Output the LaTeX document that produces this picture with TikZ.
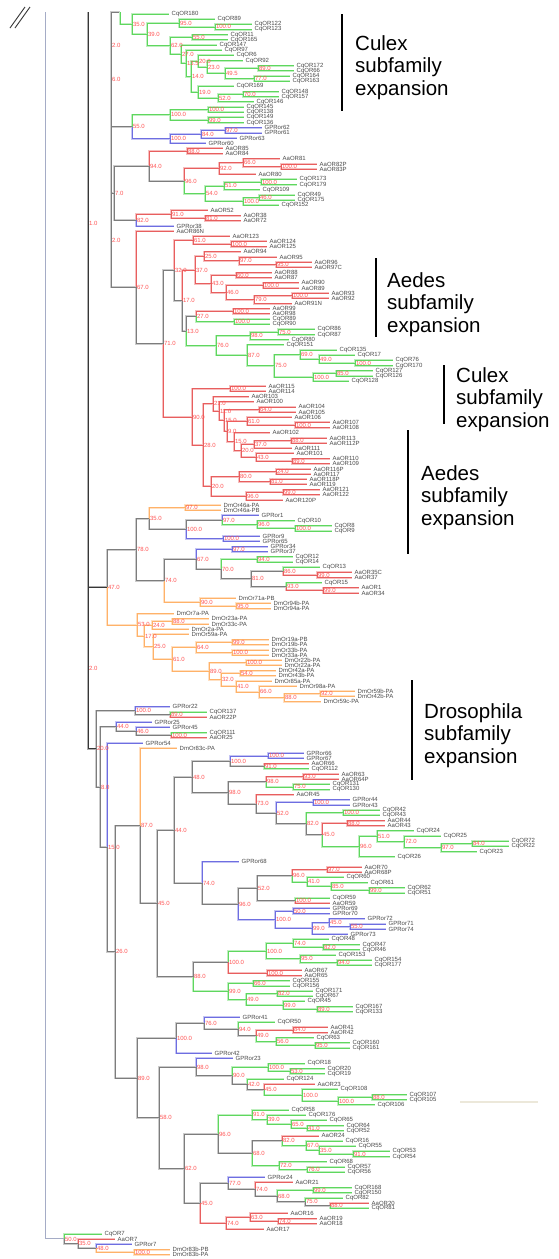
\documentclass[tikz,border=0pt]{standalone}
\usepackage{fontspec}
\setmainfont{Liberation Sans}
\usetikzlibrary{calc}
\definecolor{cG}{RGB}{95,215,95}
\definecolor{cR}{RGB}{232,95,95}
\definecolor{cB}{RGB}{110,110,225}
\definecolor{cO}{RGB}{255,178,105}
\definecolor{cK}{RGB}{125,125,125}
\definecolor{cD}{RGB}{55,55,55}
\definecolor{cbs}{RGB}{255,85,85}
\definecolor{ctx}{RGB}{75,75,75}
\definecolor{croot}{RGB}{165,172,198}
\definecolor{cbeige}{RGB}{236,232,218}
\tikzset{
 leaf/.style={anchor=west, inner xsep=2.5pt, inner ysep=0.3pt, text=ctx, font=\fontsize{6}{7}\selectfont},
 bs/.style={anchor=west, inner xsep=0.8pt, inner ysep=0.3pt, text=cbs, font=\fontsize{6}{7}\selectfont},
 eG/.style={cG, line width=0.8pt, preaction={draw=cG!40, line width=2pt}},
 eR/.style={cR, line width=0.8pt, preaction={draw=cR!40, line width=2pt}},
 eB/.style={cB, line width=0.8pt, preaction={draw=cB!40, line width=2pt}},
 eO/.style={cO, line width=0.8pt, preaction={draw=cO!40, line width=2pt}},
 eK/.style={cK, line width=0.8pt, preaction={draw=cK!40, line width=2pt}},
 eD/.style={cD, line width=0.9pt, preaction={draw=cD!40, line width=1.8pt}},
 eRoot/.style={croot, line width=1pt},
 anno/.style={align=left, inner sep=0pt, text=black, font=\fontsize{20.5}{22.5}\selectfont},
 bar/.style={black, line width=1.3pt},
}
\newcommand\Lf[3]{\node[leaf] (L#1) at ({#2-3},{14+5.17*(#1-1)}) {#3};}
\newcommand\Nd[7]{%
 \coordinate (#1m) at ($(#4)!0.5!(#6)$);
 \coordinate (#1) at (#2,0 |- #1m);
 \draw[e#5] (#1) |- (#4);
 \draw[e#7] (#1) |- (#6);
 \node[bs] (#1l) at (#1) {#3};}
\begin{document}
\begin{tikzpicture}[x=1pt,y=-1pt]
\useasboundingbox (0,0) rectangle (559,1259);
\fill[white] (0,0) rectangle (559,1259);
% leaves
\Lf{1}{172}{CqOR180}
\Lf{2}{218}{CqOR89}
\Lf{3}{255}{CqOR122}
\Lf{4}{255}{CqOR123}
\Lf{5}{231}{CqOR11}
\Lf{6}{231}{CqOR165}
\Lf{7}{220}{CqOR147}
\Lf{8}{225}{CqOR97}
\Lf{9}{237}{CqOR6}
\Lf{10}{246}{CqOR92}
\Lf{11}{297}{CqOR172}
\Lf{12}{297}{CqOR66}
\Lf{13}{293}{CqOR164}
\Lf{14}{293}{CqOR163}
\Lf{15}{237}{CqOR169}
\Lf{16}{282}{CqOR148}
\Lf{17}{282}{CqOR157}
\Lf{18}{257}{CqOR146}
\Lf{19}{247}{CqOR145}
\Lf{20}{247}{CqOR138}
\Lf{21}{247}{CqOR149}
\Lf{22}{247}{CqOR136}
\Lf{23}{265}{GPRor62}
\Lf{24}{265}{GPRor61}
\Lf{25}{240}{GPRor63}
\Lf{26}{209}{GPRor60}
\Lf{27}{226}{AaOR85}
\Lf{28}{226}{AaOR84}
\Lf{29}{283}{AaOR81}
\Lf{30}{320}{AaOR82P}
\Lf{31}{320}{AaOR83P}
\Lf{32}{259}{AaOR80}
\Lf{33}{300}{CqOR173}
\Lf{34}{300}{CqOR179}
\Lf{35}{263}{CqOR109}
\Lf{36}{298}{CqOR49}
\Lf{37}{298}{CqOR175}
\Lf{38}{282}{CqOR152}
\Lf{39}{211}{AaOR52}
\Lf{40}{244}{AaOR38}
\Lf{41}{244}{AaOR72}
\Lf{42}{177}{GPRor38}
\Lf{43}{177}{AaOR86N}
\Lf{44}{233}{AaOR123}
\Lf{45}{270}{AaOR124}
\Lf{46}{270}{AaOR125}
\Lf{47}{244}{AaOR94}
\Lf{48}{280}{AaOR95}
\Lf{49}{315}{AaOR96}
\Lf{50}{315}{AaOR97C}
\Lf{51}{275}{AaOR88}
\Lf{52}{275}{AaOR87}
\Lf{53}{302}{AaOR90}
\Lf{54}{302}{AaOR89}
\Lf{55}{332}{AaOR93}
\Lf{56}{332}{AaOR92}
\Lf{57}{295}{AaOR91N}
\Lf{58}{273}{AaOR99}
\Lf{59}{273}{AaOR98}
\Lf{60}{273}{CqOR89}
\Lf{61}{273}{CqOR90}
\Lf{62}{318}{CqOR86}
\Lf{63}{318}{CqOR87}
\Lf{64}{292}{CqOR80}
\Lf{65}{287}{CqOR151}
\Lf{66}{340}{CqOR135}
\Lf{67}{358}{CqOR17}
\Lf{68}{396}{CqOR76}
\Lf{69}{396}{CqOR170}
\Lf{70}{376}{CqOR127}
\Lf{71}{376}{CqOR126}
\Lf{72}{352}{CqOR128}
\Lf{73}{269}{AaOR115}
\Lf{74}{269}{AaOR114}
\Lf{75}{252}{AaOR103}
\Lf{76}{257}{AaOR100}
\Lf{77}{299}{AaOR104}
\Lf{78}{299}{AaOR105}
\Lf{79}{295}{AaOR106}
\Lf{80}{333}{AaOR107}
\Lf{81}{333}{AaOR108}
\Lf{82}{273}{AaOR102}
\Lf{83}{330}{AaOR113}
\Lf{84}{330}{AaOR112P}
\Lf{85}{295}{AaOR111}
\Lf{86}{297}{AaOR101}
\Lf{87}{333}{AaOR110}
\Lf{88}{333}{AaOR109}
\Lf{89}{314}{AaOR116P}
\Lf{90}{314}{AaOR117}
\Lf{91}{310}{AaOR118P}
\Lf{92}{310}{AaOR119}
\Lf{93}{323}{AaOR121}
\Lf{94}{323}{AaOR122}
\Lf{95}{286}{AaOR120P}
\Lf{96}{224}{DmOr46a-PA}
\Lf{97}{224}{DmOr46a-PB}
\Lf{98}{262}{GPRor1}
\Lf{99}{298}{CqOR10}
\Lf{100}{335}{CqOR8}
\Lf{101}{335}{CqOR9}
\Lf{102}{263}{GPRor9}
\Lf{103}{263}{GPRor65}
\Lf{104}{271}{GPRor34}
\Lf{105}{271}{GPRor37}
\Lf{106}{296}{CqOR12}
\Lf{107}{296}{CqOR14}
\Lf{108}{323}{CqOR13}
\Lf{109}{355}{AaOR35C}
\Lf{110}{355}{AaOR37}
\Lf{111}{325}{CqOR15}
\Lf{112}{362}{AaOR1}
\Lf{113}{362}{AaOR34}
\Lf{114}{239}{DmOr71a-PB}
\Lf{115}{274}{DmOr94b-PA}
\Lf{116}{274}{DmOr94a-PA}
\Lf{117}{177}{DmOr7a-PA}
\Lf{118}{212}{DmOr23a-PA}
\Lf{119}{212}{DmOr33c-PA}
\Lf{120}{192}{DmOr2a-PA}
\Lf{121}{192}{DmOr59a-PA}
\Lf{122}{272}{DmOr19a-PB}
\Lf{123}{272}{DmOr19b-PA}
\Lf{124}{272}{DmOr33b-PA}
\Lf{125}{272}{DmOr33a-PA}
\Lf{126}{285}{DmOr22b-PA}
\Lf{127}{285}{DmOr22a-PA}
\Lf{128}{279}{DmOr42a-PA}
\Lf{129}{279}{DmOr43b-PA}
\Lf{130}{275}{DmOr85a-PA}
\Lf{131}{300}{DmOr98a-PA}
\Lf{132}{358}{DmOr59b-PA}
\Lf{133}{358}{DmOr42b-PA}
\Lf{134}{324}{DmOr59c-PA}
\Lf{135}{173}{GPRor22}
\Lf{136}{210}{CqOR137}
\Lf{137}{210}{AaOR22P}
\Lf{138}{155}{GPRor25}
\Lf{139}{173}{GPRor45}
\Lf{140}{210}{CqOR111}
\Lf{141}{210}{AaOR25}
\Lf{142}{146}{GPRor54}
\Lf{143}{180}{DmOr83c-PA}
\Lf{144}{307}{GPRor66}
\Lf{145}{307}{GPRor67}
\Lf{146}{312}{AaOR66}
\Lf{147}{312}{CqOR112}
\Lf{148}{342}{AaOR63}
\Lf{149}{342}{AaOR64P}
\Lf{150}{333}{CqOR131}
\Lf{151}{333}{CqOR130}
\Lf{152}{297}{AaOR45}
\Lf{153}{353}{GPRor44}
\Lf{154}{353}{GPRor43}
\Lf{155}{383}{CqOR42}
\Lf{156}{383}{CqOR43}
\Lf{157}{388}{AaOR44}
\Lf{158}{388}{AaOR43}
\Lf{159}{417}{CqOR24}
\Lf{160}{444}{CqOR25}
\Lf{161}{512}{CqOR72}
\Lf{162}{512}{CqOR22}
\Lf{163}{480}{CqOR23}
\Lf{164}{398}{CqOR26}
\Lf{165}{242}{GPRor68}
\Lf{166}{365}{AaOR70}
\Lf{167}{365}{AaOR68P}
\Lf{168}{347}{CqOR60}
\Lf{169}{371}{CqOR61}
\Lf{170}{408}{CqOR62}
\Lf{171}{408}{CqOR51}
\Lf{172}{333}{CqOR59}
\Lf{173}{333}{AaOR59}
\Lf{174}{333}{GPRor69}
\Lf{175}{333}{GPRor70}
\Lf{176}{368}{GPRor72}
\Lf{177}{389}{GPRor71}
\Lf{178}{389}{GPRor74}
\Lf{179}{351}{GPRor73}
\Lf{180}{332}{CqOR48}
\Lf{181}{363}{CqOR47}
\Lf{182}{363}{CqOR46}
\Lf{183}{339}{CqOR153}
\Lf{184}{375}{CqOR154}
\Lf{185}{375}{CqOR177}
\Lf{186}{305}{AaOR67}
\Lf{187}{305}{AaOR65}
\Lf{188}{293}{CqOR155}
\Lf{189}{293}{CqOR156}
\Lf{190}{316}{CqOR171}
\Lf{191}{316}{CqOR67}
\Lf{192}{308}{CqOR45}
\Lf{193}{356}{CqOR167}
\Lf{194}{356}{CqOR133}
\Lf{195}{243}{GPRor41}
\Lf{196}{278}{CqOR50}
\Lf{197}{331}{AaOR41}
\Lf{198}{331}{AaOR42}
\Lf{199}{317}{CqOR63}
\Lf{200}{353}{CqOR160}
\Lf{201}{353}{CqOR161}
\Lf{202}{215}{GPRor42}
\Lf{203}{236}{GPRor23}
\Lf{204}{308}{CqOR18}
\Lf{205}{328}{CqOR20}
\Lf{206}{328}{CqOR19}
\Lf{207}{287}{CqOR124}
\Lf{208}{318}{AaOR23}
\Lf{209}{341}{CqOR108}
\Lf{210}{410}{CqOR107}
\Lf{211}{410}{CqOR105}
\Lf{212}{378}{CqOR106}
\Lf{213}{292}{CqOR58}
\Lf{214}{309}{CqOR176}
\Lf{215}{330}{CqOR65}
\Lf{216}{347}{CqOR64}
\Lf{217}{347}{CqOR52}
\Lf{218}{322}{AaOR24}
\Lf{219}{346}{CqOR16}
\Lf{220}{359}{CqOR55}
\Lf{221}{393}{CqOR53}
\Lf{222}{393}{CqOR54}
\Lf{223}{330}{CqOR68}
\Lf{224}{348}{CqOR57}
\Lf{225}{348}{CqOR56}
\Lf{226}{268}{GPRor24}
\Lf{227}{296}{AaOR21}
\Lf{228}{355}{CqOR168}
\Lf{229}{355}{CqOR150}
\Lf{230}{346}{CqOR82}
\Lf{231}{372}{AaOR20}
\Lf{232}{372}{CqOR81}
\Lf{233}{291}{AaOR16}
\Lf{234}{320}{AaOR19}
\Lf{235}{320}{AaOR18}
\Lf{236}{267}{AaOR17}
\Lf{237}{105}{CqOR7}
\Lf{238}{118}{AaOR7}
\Lf{239}{135}{GPRor7}
\Lf{240}{173}{DmOr83b-PB}
\Lf{241}{173}{DmOr83b-PA}
% region 1
\Nd{a100}{215}{100.0}{L3}{G}{L4}{G}
\Nd{a95}{179}{95.0}{L2}{G}{a100}{G}
\Nd{a55}{192}{55.0}{L5}{G}{L6}{G}
\Nd{a89}{258}{89.0}{L11}{G}{L12}{G}
\Nd{a77}{254}{77.0}{L13}{G}{L14}{G}
\Nd{a49}{225}{49.5}{a89}{G}{a77}{G}
\Nd{a23}{207}{23.0}{L10}{G}{a49}{G}
\Nd{a20}{198}{20.0}{L9}{G}{a23}{G}
\Nd{a70}{243}{70.0}{L16}{G}{L17}{G}
\Nd{a52}{218}{52.0}{a70}{G}{L18}{G}
\Nd{a19}{198}{19.0}{L15}{G}{a52}{G}
\Nd{a14}{191}{14.0}{a20}{G}{a19}{G}
\Nd{a13}{186}{13.5}{L8}{G}{a14}{G}
\Nd{a27}{181}{27.0}{L7}{G}{a13}{G}
\Nd{a62}{170}{62.0}{a55}{G}{a27}{G}
\Nd{a39}{147}{39.0}{a95}{G}{a62}{G}
\Nd{a35}{132}{35.0}{L1}{G}{a39}{G}
\Nd{b100a}{208}{100.0}{L19}{G}{L20}{G}
\Nd{b99}{208}{99.0}{L21}{G}{L22}{G}
\Nd{b100b}{170}{100.0}{b100a}{G}{b99}{G}
\Nd{b97}{225}{97.0}{L23}{B}{L24}{B}
\Nd{b84}{201}{84.0}{b97}{B}{L25}{B}
\Nd{b100c}{170}{100.0}{b84}{B}{L26}{B}
\Nd{b55}{132}{55.0}{b100b}{G}{b100c}{B}
\Nd{c88}{187}{88.0}{L27}{R}{L28}{R}
\Nd{c100a}{281}{100.0}{L30}{R}{L31}{R}
\Nd{c66}{243}{66.0}{L29}{R}{c100a}{R}
\Nd{c92}{219}{92.0}{c66}{R}{L32}{R}
\Nd{c100b}{261}{100.0}{L33}{G}{L34}{G}
\Nd{c51}{224}{51.0}{c100b}{G}{L35}{G}
\Nd{c46}{259}{46.0}{L36}{G}{L37}{G}
\Nd{c100c}{243}{100.0}{c46}{G}{L38}{G}
\Nd{c54}{205}{54.0}{c51}{G}{c100c}{G}
\Nd{c96}{184}{96.0}{c92}{R}{c54}{G}
\Nd{c94}{149}{94.0}{c88}{R}{c96}{K}
\Nd{d81}{205}{81.0}{L40}{R}{L41}{R}
\Nd{d91}{171}{91.0}{L39}{R}{d81}{R}
\Nd{d82}{136}{82.0}{d91}{R}{L42}{B}
\Nd{b7}{114}{7.0}{c94}{K}{d82}{K}
% n67 subtree
\Nd{e100a}{231}{100.0}{L45}{R}{L46}{R}
\Nd{e61}{193}{61.0}{L44}{R}{e100a}{R}
\Nd{e95}{276}{95.0}{L49}{R}{L50}{R}
\Nd{e97}{239}{97.0}{L48}{R}{e95}{R}
\Nd{e25}{204}{25.0}{L47}{R}{e97}{R}
\Nd{e60}{236}{60.0}{L51}{R}{L52}{R}
\Nd{e100b}{263}{100.0}{L53}{R}{L54}{R}
\Nd{e100c}{292}{100.0}{L55}{R}{L56}{R}
\Nd{e79}{254}{79.0}{e100c}{R}{L57}{R}
\Nd{e46}{226}{46.0}{e100b}{R}{e79}{R}
\Nd{e43}{211}{43.0}{e60}{R}{e46}{R}
\Nd{e37}{195}{37.0}{e25}{R}{e43}{R}
\Nd{e100d}{233}{100.0}{L58}{R}{L59}{R}
\Nd{e100e}{234}{100.0}{L60}{G}{L61}{G}
\Nd{e27}{196}{27.0}{e100d}{R}{e100e}{G}
\Nd{e75}{278}{75.0}{L62}{G}{L63}{G}
\Nd{e98}{250}{98.0}{e75}{G}{L64}{G}
\Nd{e100f}{355}{100.0}{L68}{G}{L69}{G}
\Nd{e49}{319}{49.0}{L67}{G}{e100f}{G}
\Nd{e69}{300}{69.0}{L66}{G}{e49}{G}
\Nd{e85}{336}{85.0}{L70}{G}{L71}{G}
\Nd{e100g}{313}{100.0}{e85}{G}{L72}{G}
\Nd{e75b}{274}{75.0}{e69}{G}{e100g}{G}
\Nd{e87}{247}{87.0}{L65}{G}{e75b}{G}
\Nd{e76}{216}{76.0}{e98}{G}{e87}{G}
\Nd{e13}{186}{13.0}{e27}{K}{e76}{G}
\Nd{e17}{182}{17.0}{e37}{R}{e13}{K}
\Nd{e32}{174}{32.0}{e61}{R}{e17}{K}
\Nd{f100a}{230}{100.0}{L73}{R}{L74}{R}
\Nd{f64}{259}{64.0}{L77}{R}{L78}{R}
\Nd{f100b}{295}{100.0}{L80}{R}{L81}{R}
\Nd{f61}{247}{61.0}{L79}{R}{f100b}{R}
\Nd{f88}{291}{88.0}{L83}{R}{L84}{R}
\Nd{f37}{254}{37.0}{f88}{R}{L85}{R}
\Nd{f89}{292}{89.0}{L87}{R}{L88}{R}
\Nd{f43}{256}{43.0}{L86}{R}{f89}{R}
\Nd{f20}{241}{20.0}{f37}{R}{f43}{R}
\Nd{f15b}{234}{15.0}{L82}{R}{f20}{R}
\Nd{f9}{227}{9.0}{f61}{R}{f15b}{R}
\Nd{f15a}{224}{15.0}{f64}{R}{f9}{R}
\Nd{f11}{219}{11.0}{L76}{R}{f15a}{R}
\Nd{f21}{213}{21.0}{L75}{R}{f11}{R}
\Nd{f24}{276}{24.0}{L89}{R}{L90}{R}
\Nd{f81}{270}{81.0}{L91}{R}{L92}{R}
\Nd{f80}{239}{80.0}{f24}{R}{f81}{R}
\Nd{f99}{283}{99.0}{L93}{R}{L94}{R}
\Nd{f96}{246}{96.0}{f99}{R}{L95}{R}
\Nd{f20b}{211}{20.0}{f80}{R}{f96}{R}
\Nd{f28}{203}{28.0}{f21}{R}{f20b}{R}
\Nd{f90}{192}{90.0}{f100a}{R}{f28}{R}
\Nd{e71}{163}{71.0}{e32}{K}{f90}{R}
\Nd{e67}{136}{67.0}{L43}{R}{e71}{K}
\Nd{b2b}{111}{2.0}{b7}{K}{e67}{K}
% top ladder
\coordinate (P) at (120,12);
\coordinate (b2a) at (111,45);
\coordinate (b6) at (111,79);
\draw[eK] (b2a) |- (P);
\draw[eG] (P) |- (a35);
\draw[eK] (b2a) |- (b6);
\draw[eK] (b6) |- (b55);
\draw[eK] (b6) |- (b2b);
\node[bs] (b2al) at (b2a) {2.0};
\node[bs] (b6l) at (b6) {6.0};
% n47 subtree
\Nd{g97}{185}{97.0}{L96}{O}{L97}{O}
\Nd{g100a}{295}{100.0}{L100}{G}{L101}{G}
\Nd{g96}{257}{96.0}{L99}{G}{g100a}{G}
\Nd{g97b}{222}{97.0}{L98}{B}{g96}{G}
\Nd{g100b}{223}{100.0}{L102}{B}{L103}{B}
\Nd{g100c}{186}{100.0}{g97b}{K}{g100b}{B}
\Nd{g35}{149}{35.0}{g97}{O}{g100c}{K}
\Nd{g97c}{232}{97.0}{L104}{B}{L105}{B}
\Nd{g94}{257}{94.0}{L106}{G}{L107}{G}
\Nd{g29}{317}{99.0}{L109}{R}{L110}{R}
\Nd{g86}{283}{86.0}{L108}{G}{g29}{R}
\Nd{g99}{323}{99.0}{L112}{R}{L113}{R}
\Nd{g93}{286}{93.0}{L111}{G}{g99}{R}
\Nd{g81}{251}{81.0}{g86}{K}{g93}{K}
\Nd{g70}{221}{70.0}{g94}{G}{g81}{K}
\Nd{g67}{196}{67.0}{g97c}{B}{g70}{K}
\Nd{g95}{236}{95.0}{L115}{O}{L116}{O}
\Nd{g90}{200}{90.0}{L114}{O}{g95}{O}
\Nd{g74}{164}{74.0}{g67}{K}{g90}{O}
\Nd{g78}{136}{78.0}{g35}{K}{g74}{K}
\Nd{h88}{172}{88.0}{L118}{O}{L119}{O}
\Nd{h24}{152}{24.0}{h88}{O}{L120}{O}
\Nd{h99}{232}{99.0}{L122}{O}{L123}{O}
\Nd{h100a}{232}{100.0}{L124}{O}{L125}{O}
\Nd{h64}{196}{64.0}{h99}{O}{h100a}{O}
\Nd{h100b}{246}{100.0}{L126}{O}{L127}{O}
\Nd{h54}{240}{54.0}{L128}{O}{L129}{O}
\Nd{h92}{320}{92.0}{L132}{O}{L133}{O}
\Nd{h88b}{284}{88.0}{h92}{O}{L134}{O}
\Nd{h66}{259}{66.0}{L131}{O}{h88b}{O}
\Nd{h41}{236}{41.0}{L130}{O}{h66}{O}
\Nd{h32}{221}{32.0}{h54}{O}{h41}{O}
\Nd{h89}{209}{89.0}{h100b}{O}{h32}{O}
\Nd{h61}{172}{61.0}{h64}{O}{h89}{O}
\Nd{h25}{153}{25.0}{L121}{O}{h61}{O}
\Nd{h17}{144}{17.0}{h24}{O}{h25}{O}
\Nd{h53}{137}{53.0}{L117}{O}{h17}{O}
\Nd{g47}{107}{47.0}{g78}{K}{h53}{O}
% n20 subtree
\Nd{i89}{170}{89.0}{L136}{G}{L137}{R}
\Nd{i100a}{135}{100.0}{L135}{B}{i89}{K}
\Nd{i100b}{171}{100.0}{L140}{G}{L141}{R}
\Nd{i46}{136}{46.0}{L139}{B}{i100b}{K}
\Nd{i44}{116}{44.0}{L138}{B}{i46}{K}
\Nd{j100a}{268}{100.0}{L144}{B}{L145}{B}
\Nd{j91}{264}{91.0}{L146}{R}{L147}{G}
\Nd{j100b}{230}{100.0}{j100a}{B}{j91}{K}
\Nd{j93}{303}{93.0}{L148}{R}{L149}{R}
\Nd{j75a}{293}{75.0}{L150}{G}{L151}{G}
\Nd{j98a}{266}{98.0}{j93}{R}{j75a}{G}
\Nd{j100c}{313}{100.0}{L153}{B}{L154}{B}
\Nd{j100d}{343}{100.0}{L155}{G}{L156}{G}
\Nd{j88}{347}{88.0}{L157}{R}{L158}{R}
\Nd{j84}{472}{84.0}{L161}{G}{L162}{G}
\Nd{j97}{441}{97.0}{j84}{G}{L163}{G}
\Nd{j72}{404}{72.0}{L160}{G}{j97}{G}
\Nd{j51}{377}{51.0}{L159}{G}{j72}{G}
\Nd{j96}{359}{96.0}{j51}{G}{L164}{G}
\Nd{j45}{322}{45.0}{j88}{R}{j96}{G}
\Nd{j82}{306}{82.0}{j100d}{G}{j45}{K}
\Nd{j52}{276}{52.0}{j100c}{B}{j82}{K}
\Nd{j75b}{256}{73.0}{L152}{R}{j52}{K}
\Nd{j98b}{228}{98.0}{j98a}{K}{j75b}{K}
\Nd{j48}{192}{48.0}{j100b}{K}{j98b}{K}
\Nd{k97}{327}{97.0}{L166}{R}{L167}{R}
\Nd{k99}{369}{99.0}{L170}{G}{L171}{G}
\Nd{k85}{331}{85.0}{L169}{G}{k99}{G}
\Nd{k41}{307}{41.0}{L168}{G}{k85}{G}
\Nd{k96}{292}{96.0}{k97}{R}{k41}{G}
\Nd{k100a}{295}{100.0}{L172}{G}{L173}{R}
\Nd{k52}{257}{52.0}{k96}{K}{k100a}{K}
\Nd{k50}{293}{50.0}{L174}{B}{L175}{B}
\Nd{k55}{350}{55.0}{L177}{B}{L178}{B}
\Nd{k45}{329}{45.0}{L176}{B}{k55}{B}
\Nd{k99b}{312}{99.0}{k45}{B}{L179}{B}
\Nd{k100b}{275}{100.0}{k50}{B}{k99b}{B}
\Nd{k96b}{238}{96.0}{k52}{K}{k100b}{B}
\Nd{k74}{202}{74.0}{L165}{B}{k96b}{K}
\Nd{j44}{174}{44.0}{j48}{K}{k74}{K}
\Nd{m82}{323}{82.0}{L181}{G}{L182}{G}
\Nd{m74}{293}{74.0}{L180}{G}{m82}{G}
\Nd{m94}{337}{94.0}{L184}{G}{L185}{G}
\Nd{m95}{300}{95.0}{L183}{G}{m94}{G}
\Nd{m100a}{266}{100.0}{m74}{G}{m95}{G}
\Nd{m100b}{267}{100.0}{L186}{R}{L187}{R}
\Nd{m100c}{228}{100.0}{m100a}{G}{m100b}{R}
\Nd{m66}{253}{66.0}{L188}{G}{L189}{G}
\Nd{m82b}{277}{82.0}{L190}{G}{L191}{G}
\Nd{m89}{317}{89.0}{L193}{G}{L194}{G}
\Nd{m99}{283}{99.0}{L192}{G}{m89}{G}
\Nd{m49}{246}{49.0}{m82b}{G}{m99}{G}
\Nd{m99b}{228}{99.0}{m66}{G}{m49}{G}
\Nd{m88}{193}{88.0}{m100c}{K}{m99b}{G}
\Nd{j45b}{157}{45.0}{j44}{K}{m88}{K}
\Nd{j87}{140}{87.0}{L143}{O}{j45b}{K}
% n69 subtree
\Nd{p84}{293}{84.0}{L197}{R}{L198}{R}
\Nd{p95}{315}{95.0}{L200}{G}{L201}{G}
\Nd{p56}{276}{56.0}{L199}{G}{p95}{G}
\Nd{p49}{256}{49.0}{p84}{R}{p56}{G}
\Nd{p94}{238}{94.0}{L196}{G}{p49}{K}
\Nd{p76}{204}{76.0}{L195}{B}{p94}{K}
\Nd{p100}{176}{100.0}{p76}{K}{L202}{B}
\Nd{q53}{290}{53.0}{L205}{G}{L206}{G}
\Nd{q100a}{268}{100.0}{L204}{G}{q53}{G}
\Nd{q88}{372}{88.0}{L210}{G}{L211}{G}
\Nd{q100b}{338}{100.0}{q88}{G}{L212}{G}
\Nd{q100c}{302}{100.0}{L209}{G}{q100b}{G}
\Nd{q45}{264}{45.0}{L208}{R}{q100c}{G}
\Nd{q42}{247}{42.0}{L207}{G}{q45}{K}
\Nd{q90}{232}{90.0}{q100a}{G}{q42}{K}
\Nd{q98}{196}{98.0}{L203}{B}{q90}{K}
\Nd{r41}{307}{41.0}{L216}{G}{L217}{G}
\Nd{r65}{291}{65.0}{L215}{G}{r41}{G}
\Nd{r39}{267}{39.0}{L214}{G}{r65}{G}
\Nd{r91}{252}{91.0}{L213}{G}{r39}{G}
\Nd{r91b}{353}{91.0}{L221}{G}{L222}{G}
\Nd{r35}{319}{35.0}{L220}{G}{r91b}{G}
\Nd{r67}{306}{67.0}{L219}{G}{r35}{G}
\Nd{r82}{282}{82.0}{L218}{R}{r67}{G}
\Nd{r76}{307}{76.0}{L224}{G}{L225}{G}
\Nd{r72}{279}{72.0}{L223}{G}{r76}{G}
\Nd{r68}{252}{68.0}{r82}{K}{r72}{G}
\Nd{r96}{218}{96.0}{r91}{G}{r68}{K}
\Nd{s99}{313}{99.0}{L228}{G}{L229}{G}
\Nd{s88}{330}{88.0}{L231}{R}{L232}{G}
\Nd{s75}{305}{75.0}{L230}{G}{s88}{K}
\Nd{s68}{277}{68.0}{s99}{G}{s75}{K}
\Nd{s74}{255}{74.0}{L227}{R}{s68}{K}
\Nd{s77}{228}{77.0}{L226}{B}{s74}{K}
\Nd{s74b}{278}{74.0}{L234}{R}{L235}{R}
\Nd{s63}{250}{63.0}{L233}{R}{s74b}{R}
\Nd{s74c}{226}{74.0}{s63}{R}{L236}{R}
\Nd{s45}{200}{45.0}{s77}{K}{s74c}{R}
\Nd{r62}{184}{62.0}{r96}{K}{s45}{K}
\Nd{q58}{159}{58.0}{q98}{K}{r62}{K}
\Nd{p69}{137}{89.0}{p100}{K}{q58}{K}
% backbone
\Nd{t26}{115}{26.0}{j87}{K}{p69}{K}
\Nd{t15}{107}{15.0}{L142}{B}{t26}{K}
\Nd{t8}{100}{8.0}{i44}{K}{t15}{K}
\Nd{t20}{96}{20.0}{i100a}{K}{t8}{K}
\Nd{t2}{88}{2.0}{g47}{D}{t20}{D}
\coordinate (rtop) at (88,12);
\coordinate (r1) at (88,223);
\draw[eD] (r1) |- (rtop);
\draw[eD] (r1) |- (t2);
\node[bs] (r1l) at (r1) {1.0};
% outgroup
\Nd{u100}{134}{100.0}{L240}{O}{L241}{O}
\Nd{u48}{96}{48.0}{L239}{B}{u100}{O}
\Nd{u35}{78}{35.0}{L238}{R}{u48}{K}
\Nd{u50}{64}{50.0}{L237}{G}{u35}{K}
\coordinate (root0) at (45,12);
\draw[eRoot] (root0) |- (u50);
% break mark
\coordinate (s1a) at (10,28); \coordinate (s1b) at (25,7);
\coordinate (s2a) at (15,28); \coordinate (s2b) at (30,7);
\draw[cD, line width=0.9pt] (s1a) -- (s1b);
\draw[cD, line width=0.9pt] (s2a) -- (s2b);
% faint line
\coordinate (bz1) at (460,1102); \coordinate (bz2) at (538,1102);
\draw[cbeige, line width=2pt] (bz1) -- (bz2);
% annotations
\coordinate (bar1a) at (342,14); \coordinate (bar1b) at (342,111);
\draw[bar] (bar1a) -- (bar1b);
\node[anno, anchor=north west] (A1) at (355,35) {Culex\\subfamily\\expansion};
\coordinate (bar2a) at (376,258); \coordinate (bar2b) at (376,337);
\draw[bar] (bar2a) -- (bar2b);
\node[anno, anchor=north west] (A2) at (387,272) {Aedes\\subfamily\\expansion};
\coordinate (bar3a) at (444,365); \coordinate (bar3b) at (444,424);
\draw[bar] (bar3a) -- (bar3b);
\node[anno, anchor=north west] (A3) at (456,367) {Culex\\subfamily\\expansion};
\coordinate (bar4a) at (408,430); \coordinate (bar4b) at (408,554);
\draw[bar] (bar4a) -- (bar4b);
\node[anno, anchor=north west] (A4) at (421,465) {Aedes\\subfamily\\expansion};
\coordinate (bar5a) at (412,680); \coordinate (bar5b) at (412,780);
\draw[bar] (bar5a) -- (bar5b);
\node[anno, anchor=north west] (A5) at (424,703) {Drosophila\\subfamily\\expansion};
\end{tikzpicture}
\end{document}
